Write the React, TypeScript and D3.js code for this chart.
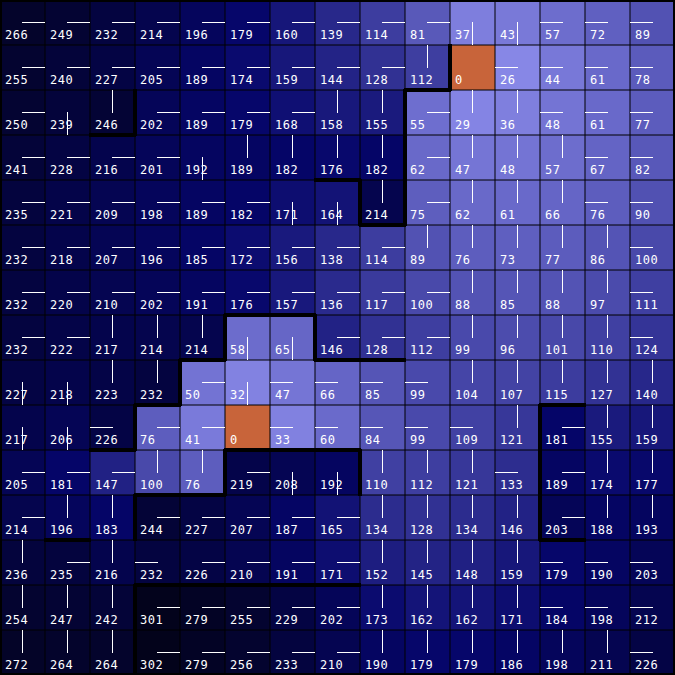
import React from "react";
import * as d3 from "d3";

const size = 675;
const n = 15;

// cost of the cheapest path to the nearest source, one array per row
const dist = [
  [266, 249, 232, 214, 196, 179, 160, 139, 114, 81, 37, 43, 57, 72, 89],
  [255, 240, 227, 205, 189, 174, 159, 144, 128, 112, 0, 26, 44, 61, 78],
  [250, 239, 246, 202, 189, 179, 168, 158, 155, 55, 29, 36, 48, 61, 77],
  [241, 228, 216, 201, 192, 189, 182, 176, 182, 62, 47, 48, 57, 67, 82],
  [235, 221, 209, 198, 189, 182, 171, 164, 214, 75, 62, 61, 66, 76, 90],
  [232, 218, 207, 196, 185, 172, 156, 138, 114, 89, 76, 73, 77, 86, 100],
  [232, 220, 210, 202, 191, 176, 157, 136, 117, 100, 88, 85, 88, 97, 111],
  [232, 222, 217, 214, 214, 58, 65, 146, 128, 112, 99, 96, 101, 110, 124],
  [227, 218, 223, 232, 50, 32, 47, 66, 85, 99, 104, 107, 115, 127, 140],
  [217, 206, 226, 76, 41, 0, 33, 60, 84, 99, 109, 121, 181, 155, 159],
  [205, 181, 147, 100, 76, 219, 208, 192, 110, 112, 121, 133, 189, 174, 177],
  [214, 196, 183, 244, 227, 207, 187, 165, 134, 128, 134, 146, 203, 188, 193],
  [236, 235, 216, 232, 226, 210, 191, 171, 152, 145, 148, 159, 179, 190, 203],
  [254, 247, 242, 301, 279, 255, 229, 202, 173, 162, 162, 171, 184, 198, 212],
  [272, 264, 264, 302, 279, 256, 233, 210, 190, 179, 179, 186, 198, 211, 226],
];

// neighbour each cell was reached from (R right, L left, U up, D down, S source)
const cameFrom = [
  "RRRRRRRRRRDDLLL",
  "RRRRRRRRRUSLLLL",
  "RDURRRRUURUULLL",
  "RRRRDUUUURUUULL",
  "RRRRRRDDURUUULL",
  "RRRRRRRRRUUUUUL",
  "RRRRRRRRRRUUUUL",
  "RRUUUDDRRRUUUUL",
  "DDUURDLLLLUUUUU",
  "DDLRRSLLLLLURUU",
  "RRRUURDDUUULRUU",
  "RUURRRRRUUUURUU",
  "URULRRRRUUUULLL",
  "UUURRRRRUUUULLL",
  "UUURRRRRUUUUUUL",
];

// walls on vertical grid lines: [grid column, row]
const vWalls = [
  [3, 2], [10, 1], [9, 2], [9, 3], [9, 4], [8, 4], [5, 7], [7, 7], [4, 8],
  [3, 9], [5, 10], [8, 10], [3, 11], [3, 13], [3, 14], [12, 9], [12, 10], [12, 11],
];
// walls on horizontal grid lines: [grid row, column]
const hWalls = [
  [3, 2], [2, 9], [5, 8], [4, 7], [8, 4], [9, 3], [10, 2], [11, 3], [11, 4],
  [10, 5], [10, 6], [10, 7], [13, 3], [13, 4], [13, 5], [13, 6], [13, 7],
  [12, 1], [12, 12], [9, 12], [7, 5], [7, 6], [8, 7], [8, 8],
];

export default function App() {
  const pos = d3.scaleLinear().domain([0, n]).range([0, size]);
  const cell = pos(1) - pos(0);
  const color = d3
    .scaleLinear<string>()
    .domain([20, 180, 250, 305])
    .range(["#8c8ceb", "#050569", "#040432", "#03031a"])
    .interpolate(d3.interpolateRgb)
    .clamp(true);

  const cells = dist.flatMap((row, r) =>
    row.map((v, c) => ({ r, c, v, dir: cameFrom[r][c] }))
  );

  return (
    <div style={{ position: "fixed", left: 0, top: 0 }}>
      <svg width={size} height={size} style={{ display: "block", background: "#000" }}>
        {cells.map(({ r, c, v, dir }) => {
          const x = pos(c), y = pos(r);
          const cx = x + cell / 2, cy = y + cell / 2;
          let seg = null;
          if (dir === "R") seg = [cx - 0.5, cy, x + cell, cy];
          if (dir === "L") seg = [x, cy, cx + 0.5, cy];
          if (dir === "U") seg = [cx, y, cx, cy + 0.5];
          if (dir === "D") seg = [cx, cy - 0.5, cx, y + cell];
          return (
            <g key={r + "-" + c}>
              <rect
                x={x + 0.5}
                y={y + 0.5}
                width={cell - 1}
                height={cell - 1}
                fill={dir === "S" ? "#c8643a" : color(v)}
              />
              {seg && (
                <line x1={seg[0]} y1={seg[1]} x2={seg[2]} y2={seg[3]} stroke="#fff" strokeWidth={1} />
              )}
              <text
                x={x + 5}
                y={y + 39}
                fill="#fff"
                fontFamily="DejaVu Sans Mono"
                fontSize={12}
                letterSpacing={0.5}
              >
                {v}
              </text>
            </g>
          );
        })}
        {vWalls.map(([c, r], i) => (
          <line key={"v" + i} x1={pos(c)} x2={pos(c)} y1={pos(r) - 1} y2={pos(r + 1) + 1} stroke="#000" strokeWidth={4} />
        ))}
        {hWalls.map(([r, c], i) => (
          <line key={"h" + i} x1={pos(c) - 1} x2={pos(c + 1) + 1} y1={pos(r)} y2={pos(r)} stroke="#000" strokeWidth={4} />
        ))}
        <rect x={1} y={1} width={size - 2} height={size - 2} fill="none" stroke="#000" strokeWidth={2} />
      </svg>
    </div>
  );
}
